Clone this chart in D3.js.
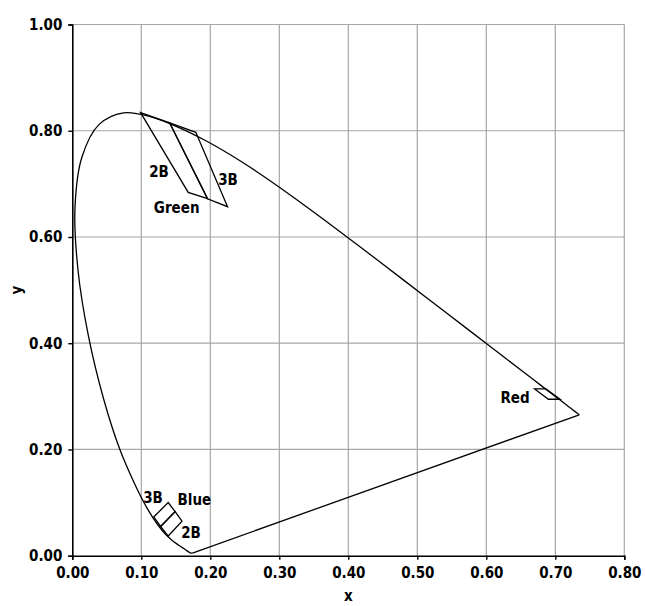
<!DOCTYPE html>
<html>
<head>
<meta charset="utf-8">
<script src="https://cdn.jsdelivr.net/npm/d3@7"></script>
<style>
  body { margin: 0; background: #fff; }
  svg text { font-family: "DejaVu Sans Condensed", "DejaVu Sans", sans-serif; font-stretch: condensed; font-weight: bold; font-size: 15px; fill: #000; }
</style>
</head>
<body>
<div id="chart"></div>
<script>
const w = 645;
const h = 606;
const m = {top: 24.5, right: 20.7, bottom: 50.3, left: 72.3};

// CIE 1931 spectral locus, 380-700 nm
const locusX = [0.1741, 0.1740, 0.1738, 0.1736, 0.1733, 0.1730, 0.1726, 0.1721, 0.1714, 0.1703, 0.1689, 0.1669, 0.1644, 0.1611, 0.1566, 0.1510, 0.1440, 0.1355, 0.1241, 0.1096, 0.0913, 0.0687, 0.0454, 0.0235, 0.0082, 0.0039, 0.0139, 0.0389, 0.0743, 0.1142, 0.1547, 0.1929, 0.2296, 0.2658, 0.3016, 0.3373, 0.3731, 0.4087, 0.4441, 0.4788, 0.5125, 0.5448, 0.5752, 0.6029, 0.6270, 0.6482, 0.6658, 0.6801, 0.6915, 0.7006, 0.7079, 0.7140, 0.7190, 0.7230, 0.7260, 0.7283, 0.7300, 0.7320, 0.7334, 0.7347];
const locusY = [0.0050, 0.0050, 0.0049, 0.0049, 0.0048, 0.0048, 0.0048, 0.0048, 0.0051, 0.0058, 0.0069, 0.0086, 0.0109, 0.0138, 0.0177, 0.0227, 0.0297, 0.0399, 0.0578, 0.0868, 0.1327, 0.2007, 0.2950, 0.4127, 0.5384, 0.6548, 0.7502, 0.8120, 0.8338, 0.8262, 0.8059, 0.7816, 0.7543, 0.7243, 0.6923, 0.6589, 0.6245, 0.5896, 0.5547, 0.5202, 0.4866, 0.4544, 0.4242, 0.3965, 0.3725, 0.3514, 0.3340, 0.3197, 0.3083, 0.2993, 0.2920, 0.2859, 0.2809, 0.2770, 0.2740, 0.2717, 0.2700, 0.2680, 0.2666, 0.2653];

// colour regions (x, y)
const green2B = [[0.099, 0.834], [0.141, 0.815], [0.196, 0.672], [0.168, 0.684]];
const green3B = [[0.141, 0.815], [0.179, 0.797], [0.225, 0.657], [0.196, 0.672]];
const blue3B = [[0.118, 0.073], [0.139, 0.100], [0.149, 0.083], [0.128, 0.055]];
const blue2B = [[0.128, 0.055], [0.149, 0.083], [0.159, 0.065], [0.139, 0.037]];
const red = [[0.670, 0.314], [0.6865, 0.314], [0.707, 0.2945], [0.690, 0.2945]];

const labelText = ["2B", "3B", "Green", "3B", "Blue", "2B", "Red"];
const labelX = [0.1257, 0.2257, 0.1513, 0.117, 0.177, 0.172, 0.6416];
const labelY = [0.7226, 0.7076, 0.6548, 0.1087, 0.105, 0.0428, 0.297];

const xTicks = [0, 0.1, 0.2, 0.3, 0.4, 0.5, 0.6, 0.7, 0.8];
const yTicks = [0, 0.2, 0.4, 0.6, 0.8, 1.0];

const pw = w - m.left - m.right;
const ph = h - m.top - m.bottom;

const xScale = d3.scaleLinear().domain([0, 0.8]).range([0, pw]);
const yScale = d3.scaleLinear().domain([0, 1]).range([ph, 0]);

const svg = d3.select("#chart")
    .append("svg")
    .attr("width", w)
    .attr("height", h);

const g = svg.append("g")
    .attr("transform", `translate(${m.left}, ${m.top})`);

// grid
g.selectAll(".vgrid")
    .data(xTicks.slice(1))
    .enter()
    .append("line")
    .attr("x1", d => xScale(d))
    .attr("x2", d => xScale(d))
    .attr("y1", 0)
    .attr("y2", ph)
    .attr("stroke", "#a6a6a6")
    .attr("stroke-width", 1.2);

g.selectAll(".hgrid")
    .data(yTicks.slice(1))
    .enter()
    .append("line")
    .attr("x1", 0)
    .attr("x2", pw)
    .attr("y1", d => yScale(d))
    .attr("y2", d => yScale(d))
    .attr("stroke", "#a6a6a6")
    .attr("stroke-width", 1.2);

// axes
const xAxis = d3.axisBottom(xScale).tickValues(xTicks).tickFormat(d3.format(".2f")).tickSize(4).tickPadding(8);
const yAxis = d3.axisLeft(yScale).tickValues(yTicks).tickFormat(d3.format(".2f")).tickSize(4).tickPadding(6);

const gx = g.append("g")
    .attr("transform", `translate(0, ${ph})`)
    .call(xAxis);

const gy = g.append("g")
    .call(yAxis);

[gx, gy].forEach(a => {
    a.attr("font-size", null).attr("font-family", null);
    a.select(".domain").attr("stroke", "#000").attr("stroke-width", 1.6);
    a.selectAll(".tick line").attr("stroke", "#000").attr("stroke-width", 1.4);
});

// spectral locus, closed by the purple line
const locus = locusX.map((x, i) => [x, locusY[i]]);

const line = d3.line()
    .x(d => xScale(d[0]))
    .y(d => yScale(d[1]))
    .curve(d3.curveCatmullRom.alpha(0.5));

g.append("path")
    .attr("d", line(locus))
    .attr("fill", "none")
    .attr("stroke", "#000")
    .attr("stroke-width", 1.3);

g.append("path")
    .attr("d", d3.line().x(d => xScale(d[0])).y(d => yScale(d[1]))([locus[0], locus[locus.length - 1]]))
    .attr("fill", "none")
    .attr("stroke", "#000")
    .attr("stroke-width", 1.3);

// regions
const poly = d3.line().x(d => xScale(d[0])).y(d => yScale(d[1])).curve(d3.curveLinearClosed);

g.selectAll(".region")
    .data([green2B, green3B, blue3B, blue2B, red])
    .enter()
    .append("path")
    .attr("class", "region")
    .attr("d", d => poly(d))
    .attr("fill", "none")
    .attr("stroke", "#000")
    .attr("stroke-width", 1.3);

// labels
g.selectAll(".label")
    .data(labelText)
    .enter()
    .append("text")
    .attr("class", "label")
    .attr("x", (d, i) => xScale(labelX[i]))
    .attr("y", (d, i) => yScale(labelY[i]))
    .attr("text-anchor", "middle")
    .attr("dominant-baseline", "central")
    .text(d => d);

// axis titles
svg.append("text")
    .attr("x", m.left + pw / 2)
    .attr("y", 601)
    .attr("text-anchor", "middle")
    .text("x");

svg.append("text")
    .attr("transform", `translate(22, ${m.top + ph / 2}) rotate(-90)`)
    .attr("text-anchor", "middle")
    .text("y");
</script>
</body>
</html>
